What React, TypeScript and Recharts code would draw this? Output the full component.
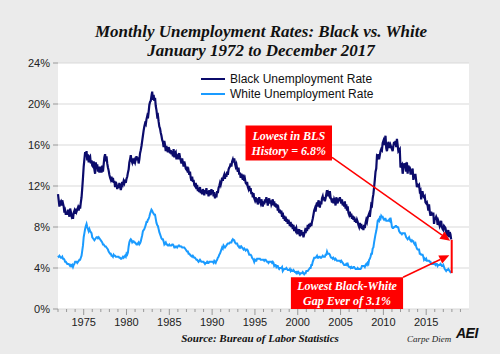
import {
  CartesianGrid,
  Legend,
  Line,
  LineChart,
  ReferenceArea,
  ReferenceLine,
  XAxis,
  YAxis,
} from "recharts";

const startYear = 1972;

// monthly black unemployment rate, Jan 1972 - Dec 2017 (one row per year)
const blackRate = [
  11.2, 10.6, 10.0, 10.4, 10.5, 10.1, 10.6, 10.3, 10.0, 9.4, 9.6, 9.2,
  9.5, 9.2, 9.7, 9.4, 9.0, 9.8, 9.5, 9.1, 9.3, 8.8, 9.4, 9.6,
  9.3, 9.8, 9.5, 9.7, 9.9, 9.6, 10.1, 9.8, 10.4, 10.9, 11.8, 12.8,
  13.9, 14.6, 15.3, 14.9, 15.4, 14.5, 15.1, 14.3, 14.8, 14.9, 14.2, 14.5,
  14.0, 13.9, 14.4, 13.6, 13.2, 14.3, 13.8, 14.1, 13.4, 13.9, 13.3, 13.9,
  13.7, 13.3, 14.0, 13.4, 14.1, 14.8, 15.1, 14.4, 14.9, 14.2, 13.8, 13.5,
  13.1, 12.8, 12.6, 12.9, 12.4, 12.8, 12.3, 12.5, 11.9, 12.4, 12.2, 11.7,
  12.1, 11.8, 12.3, 12.0, 11.6, 11.9, 12.4, 12.2, 12.5, 12.3, 12.6, 12.3,
  12.7, 12.9, 13.3, 13.6, 14.3, 14.6, 15.0, 14.5, 14.3, 14.7, 14.2, 14.5,
  14.3, 14.6, 14.9, 14.5, 14.8, 14.2, 14.6, 15.2, 15.5, 15.9, 16.4, 16.9,
  17.4, 17.8, 18.1, 18.0, 18.5, 18.8, 18.6, 19.2, 19.9, 20.2, 20.3, 20.8,
  21.2, 20.4, 20.9, 20.3, 20.6, 19.8, 19.4, 18.8, 18.9, 18.3, 17.8, 17.6,
  17.2, 16.9, 16.5, 16.3, 15.8, 16.4, 16.0, 15.4, 15.9, 15.5, 15.3, 15.8,
  15.6, 15.2, 15.5, 15.1, 15.4, 14.9, 15.6, 14.8, 15.2, 15.3, 14.6, 14.9,
  15.0, 14.6, 15.2, 14.8, 14.5, 14.2, 14.7, 14.3, 13.9, 14.4, 14.1, 13.7,
  13.6, 13.9, 13.3, 13.5, 13.1, 13.4, 12.8, 12.5, 12.9, 12.4, 12.6, 12.1,
  12.0, 12.3, 11.7, 12.1, 11.5, 11.8, 11.4, 11.9, 11.3, 11.6, 11.2, 11.7,
  11.5, 11.1, 11.6, 11.3, 11.8, 11.2, 11.5, 11.0, 11.6, 11.4, 11.1, 11.7,
  11.3, 11.6, 11.0, 11.4, 10.8, 11.2, 10.9, 11.5, 11.3, 11.8, 12.0, 12.3,
  12.1, 12.4, 12.8, 12.5, 12.9, 13.1, 12.7, 13.2, 12.9, 13.4, 13.1, 13.6,
  13.8, 13.9, 14.2, 13.9, 14.4, 14.6, 14.3, 14.7, 14.2, 13.9, 14.1, 13.7,
  13.4, 13.8, 13.1, 13.3, 12.8, 13.2, 12.9, 12.6, 13.1, 12.5, 12.7, 12.3,
  12.2, 12.4, 11.9, 11.7, 12.0, 11.5, 11.8, 11.2, 11.4, 10.9, 11.3, 10.8,
  10.6, 10.9, 10.4, 10.8, 10.2, 10.6, 10.9, 10.5, 10.3, 10.7, 10.4, 10.0,
  10.5, 10.2, 10.7, 10.4, 10.9, 10.6, 10.1, 10.5, 10.8, 10.3, 10.6, 10.2,
  10.4, 10.7, 10.1, 10.5, 10.0, 10.3, 9.9, 10.2, 9.6, 9.8, 9.4, 9.7,
  9.3, 9.6, 9.0, 9.4, 8.8, 9.1, 8.6, 9.0, 8.5, 8.8, 8.3, 8.7,
  8.4, 8.1, 8.5, 8.0, 8.3, 7.8, 8.2, 7.6, 8.0, 7.7, 7.9, 7.5,
  7.6, 7.3, 7.8, 7.1, 7.4, 7.7, 7.2, 7.5, 7.0, 7.3, 7.6, 7.4,
  7.9, 7.6, 8.2, 7.8, 8.3, 8.0, 8.4, 8.1, 8.5, 8.8, 9.2, 9.6,
  9.8, 9.5, 10.1, 10.4, 10.0, 10.6, 10.3, 9.9, 10.5, 10.2, 10.8, 11.0,
  10.6, 10.9, 10.5, 10.8, 11.2, 11.6, 11.0, 11.3, 11.1, 11.5, 10.9, 10.7,
  10.4, 10.8, 10.3, 10.7, 10.5, 10.1, 10.9, 10.6, 10.3, 10.8, 10.5, 10.9,
  10.6, 10.3, 10.7, 10.1, 10.4, 10.0, 10.5, 9.8, 10.2, 9.6, 10.0, 9.4,
  9.2, 9.5, 9.0, 9.3, 8.8, 9.1, 8.7, 9.0, 8.5, 8.8, 8.4, 8.7,
  8.5, 8.2, 8.0, 8.4, 7.9, 8.3, 7.8, 8.1, 7.7, 8.2, 7.9, 8.4,
  8.7, 8.5, 8.9, 9.1, 9.3, 9.0, 9.6, 10.2, 10.1, 10.8, 11.2, 11.9,
  12.6, 13.4, 13.7, 14.9, 14.8, 15.1, 14.6, 15.0, 15.4, 15.6, 15.5, 16.2,
  16.4, 16.0, 16.5, 16.9, 15.7, 15.4, 15.8, 16.3, 16.1, 15.7, 16.0, 15.8,
  15.6, 15.4, 15.9, 16.3, 16.0, 16.4, 15.8, 16.6, 16.0, 15.4, 15.5, 15.6,
  13.8, 14.0, 14.1, 13.2, 13.6, 14.2, 14.0, 14.1, 13.4, 14.3, 13.2, 14.0,
  13.8, 13.8, 13.2, 13.2, 13.5, 13.7, 12.6, 13.0, 13.1, 13.1, 12.5, 11.9,
  12.1, 12.0, 12.1, 11.5, 11.6, 10.7, 11.4, 11.4, 11.0, 10.9, 11.0, 10.4,
  10.3, 10.4, 10.1, 9.6, 10.2, 9.5, 9.1, 9.5, 9.2, 9.2, 9.4, 8.3,
  8.8, 8.8, 9.0, 8.8, 8.2, 8.6, 8.4, 8.1, 8.3, 8.6, 8.0, 7.8,
  7.7, 8.1, 8.0, 7.9, 7.5, 7.1, 7.4, 7.7, 7.0, 7.5, 7.3, 6.8,
];

// monthly white unemployment rate, same months
const whiteRate = [
  5.2, 5.1, 5.2, 5.1, 5.0, 5.0, 5.1, 4.9, 4.9, 4.8, 4.6, 4.6,
  4.5, 4.4, 4.4, 4.4, 4.3, 4.2, 4.3, 4.2, 4.3, 4.1, 4.3, 4.4,
  4.6, 4.6, 4.6, 4.5, 4.6, 4.7, 4.8, 4.8, 5.0, 5.2, 5.7, 6.2,
  7.0, 7.4, 7.8, 8.1, 8.3, 8.0, 7.8, 7.6, 7.8, 7.6, 7.5, 7.4,
  7.0, 6.9, 6.8, 6.7, 6.8, 6.9, 7.0, 7.0, 6.9, 7.0, 6.9, 6.8,
  6.7, 6.6, 6.5, 6.3, 6.3, 6.2, 6.1, 6.1, 6.0, 5.9, 5.8, 5.6,
  5.5, 5.4, 5.4, 5.2, 5.2, 5.1, 5.3, 5.2, 5.2, 5.1, 5.1, 5.1,
  5.1, 5.1, 5.0, 5.0, 4.9, 4.9, 5.0, 5.1, 5.0, 5.1, 5.2, 5.1,
  5.4, 5.3, 5.5, 6.1, 6.5, 6.7, 6.8, 6.7, 6.5, 6.6, 6.6, 6.5,
  6.5, 6.4, 6.3, 6.3, 6.4, 6.5, 6.3, 6.4, 6.6, 6.9, 7.2, 7.6,
  7.7, 7.8, 8.0, 8.2, 8.5, 8.5, 8.7, 8.8, 9.0, 9.3, 9.5, 9.7,
  9.6, 9.4, 9.3, 9.2, 9.2, 8.8, 8.4, 8.2, 8.1, 7.8, 7.5, 7.3,
  7.1, 6.9, 6.8, 6.8, 6.6, 6.3, 6.4, 6.5, 6.3, 6.3, 6.2, 6.2,
  6.3, 6.2, 6.2, 6.2, 6.3, 6.3, 6.2, 6.0, 6.0, 6.1, 6.1, 6.0,
  6.1, 6.2, 6.2, 6.1, 6.1, 6.1, 6.0, 6.0, 6.0, 6.0, 5.9, 5.8,
  5.7, 5.6, 5.6, 5.4, 5.4, 5.3, 5.2, 5.2, 5.1, 5.2, 5.1, 5.0,
  5.0, 4.9, 4.8, 4.8, 4.7, 4.6, 4.7, 4.8, 4.7, 4.6, 4.6, 4.6,
  4.6, 4.5, 4.4, 4.5, 4.5, 4.6, 4.5, 4.5, 4.6, 4.6, 4.6, 4.6,
  4.6, 4.6, 4.5, 4.7, 4.6, 4.5, 4.7, 4.8, 5.0, 5.1, 5.3, 5.4,
  5.6, 5.8, 6.0, 5.9, 6.2, 6.1, 6.0, 6.1, 6.2, 6.3, 6.4, 6.4,
  6.4, 6.5, 6.5, 6.5, 6.7, 6.8, 6.7, 6.7, 6.5, 6.4, 6.4, 6.4,
  6.2, 6.1, 6.0, 6.1, 6.0, 6.1, 6.0, 5.9, 5.8, 5.9, 5.8, 5.7,
  5.8, 5.8, 5.7, 5.5, 5.3, 5.3, 5.3, 5.2, 5.0, 4.9, 4.8, 4.6,
  4.8, 4.7, 4.7, 4.9, 4.9, 4.9, 4.9, 4.9, 4.8, 4.8, 4.8, 4.8,
  4.8, 4.7, 4.8, 4.8, 4.7, 4.6, 4.6, 4.5, 4.6, 4.6, 4.6, 4.6,
  4.5, 4.6, 4.5, 4.2, 4.3, 4.3, 4.1, 4.2, 4.2, 4.0, 3.9, 4.0,
  4.0, 4.0, 4.1, 3.7, 3.8, 3.9, 3.9, 3.9, 4.0, 3.9, 3.8, 3.8,
  3.8, 3.9, 3.7, 3.8, 3.7, 3.7, 3.8, 3.7, 3.6, 3.6, 3.5, 3.6,
  3.5, 3.6, 3.5, 3.4, 3.5, 3.5, 3.5, 3.6, 3.5, 3.4, 3.5, 3.5,
  3.7, 3.7, 3.7, 3.8, 3.9, 4.0, 4.0, 4.3, 4.3, 4.6, 4.8, 5.0,
  5.0, 5.0, 5.1, 5.2, 5.0, 5.0, 5.1, 5.1, 5.0, 5.0, 5.1, 5.2,
  5.1, 5.1, 5.1, 5.3, 5.3, 5.6, 5.4, 5.4, 5.4, 5.3, 5.1, 5.0,
  5.0, 4.9, 5.0, 4.9, 4.8, 4.9, 4.8, 4.7, 4.7, 4.7, 4.7, 4.7,
  4.6, 4.7, 4.6, 4.5, 4.4, 4.3, 4.3, 4.3, 4.4, 4.3, 4.4, 4.2,
  4.1, 4.1, 4.0, 4.1, 4.0, 4.0, 4.1, 4.1, 4.0, 3.9, 3.9, 3.9,
  4.0, 3.9, 3.9, 3.9, 3.9, 4.0, 4.2, 4.2, 4.2, 4.2, 4.1, 4.3,
  4.4, 4.3, 4.5, 4.4, 4.8, 4.9, 5.1, 5.4, 5.4, 5.9, 6.0, 6.5,
  6.9, 7.3, 7.6, 8.0, 8.6, 8.7, 8.6, 8.9, 8.8, 9.1, 9.0, 9.0,
  8.8, 8.7, 8.8, 8.8, 8.6, 8.6, 8.6, 8.6, 8.7, 8.6, 8.9, 8.5,
  8.0, 7.9, 7.9, 8.0, 8.0, 8.1, 8.1, 8.0, 8.0, 7.9, 7.6, 7.5,
  7.4, 7.4, 7.3, 7.4, 7.4, 7.4, 7.4, 7.2, 7.0, 6.9, 6.8, 6.9,
  7.0, 6.8, 6.7, 6.6, 6.7, 6.6, 6.6, 6.4, 6.3, 6.4, 6.1, 5.9,
  5.8, 5.8, 5.8, 5.4, 5.4, 5.3, 5.3, 5.3, 5.1, 4.8, 4.9, 4.8,
  4.9, 4.7, 4.7, 4.7, 4.7, 4.6, 4.6, 4.4, 4.4, 4.4, 4.4, 4.5,
  4.4, 4.3, 4.4, 4.4, 4.2, 4.3, 4.3, 4.3, 4.4, 4.3, 4.2, 4.2,
  4.3, 4.1, 3.9, 3.8, 3.7, 3.8, 3.8, 3.9, 3.8, 3.7, 3.6, 3.7,
];

const yTicks = [0, 4, 8, 12, 16, 20, 24];
const yearTicks = Array.from({ length: 48 }, (_, i) => startYear + i);

const data = blackRate.map((b, i) => ({
  t: startYear + i / 12,
  black: b,
  white: whiteRate[i],
}));

const RED = "#ff0000";
const serif = "'Liberation Serif', 'Times New Roman', serif";
const sans = "'Liberation Sans', Arial, sans-serif";

const YearTick = ({ x, y, payload }: any) => {
  const major = payload.value % 5 === 0;
  return (
    <g>
      <line x1={x} y1={y} x2={x} y2={y + (major ? 6 : 3)} stroke="#999" />
      {major && (
        <text x={x} y={y + 17} textAnchor="middle" fontSize={11} fill="#222" fontFamily={sans}>
          {payload.value}
        </text>
      )}
    </g>
  );
};

const Arrow = (props: any) => {
  const { x1, y1, x2, y2 } = props;
  const a = Math.atan2(y2 - y1, x2 - x1);
  const len = 10;
  const w = 4.5;
  const bx = x2 - len * Math.cos(a);
  const by = y2 - len * Math.sin(a);
  const pts = `${x2},${y2} ${bx - w * Math.sin(a)},${by + w * Math.cos(a)} ${bx + w * Math.sin(a)},${by - w * Math.cos(a)}`;
  return (
    <g>
      <line x1={x1} y1={y1} x2={bx} y2={by} stroke={RED} strokeWidth={1.5} />
      <polygon points={pts} fill={RED} />
    </g>
  );
};

const BoxLabel = ({ viewBox, lines }: any) => {
  const { x, y, width, height } = viewBox;
  const cx = x + width / 2;
  const lh = 15;
  const top = y + height / 2 - ((lines.length - 1) * lh) / 2;
  return (
    <text
      textAnchor="middle"
      fill="#fff"
      fontFamily={serif}
      fontStyle="italic"
      fontWeight="bold"
      fontSize={12}
    >
      {lines.map((l: string, i: number) => (
        <tspan key={l} x={cx} y={top + i * lh} dy="0.35em">
          {l}
        </tspan>
      ))}
    </text>
  );
};

const LegendBox = ({ payload }: any) => (
  <div style={{ fontFamily: sans, fontSize: 12, color: "#111" }}>
    {(payload || []).map((e: any) => (
      <div key={e.value} style={{ display: "flex", alignItems: "center", height: 15 }}>
        <svg width={29} height={4}>
          <line x1={0} y1={2} x2={24} y2={2} stroke={e.color} strokeWidth={2} />
        </svg>
        <span>{e.value}</span>
      </div>
    ))}
  </div>
);

export default function App() {
  return (
    <div
      style={{
        position: "absolute",
        left: 0,
        top: 0,
        width: 500,
        height: 354,
        background: "#ebebeb",
        overflow: "hidden",
      }}
    >
      <div
        style={{
          position: "absolute",
          left: 0,
          width: 522,
          top: 22,
          textAlign: "center",
          fontFamily: serif,
          fontStyle: "italic",
          fontWeight: "bold",
          fontSize: 17,
          lineHeight: "19px",
          color: "#111",
        }}
      >
        Monthly Unemployment Rates: Black vs. White
        <br />
        January 1972 to December 2017
      </div>
      <LineChart
        width={500}
        height={354}
        data={data}
        margin={{ top: 63, right: 31, left: 0, bottom: 15 }}
        style={{ position: "absolute", left: 0, top: 0 }}
      >
        <CartesianGrid vertical={false} stroke="#d9d9d9" fill="#ffffff" />
        <XAxis
          dataKey="t"
          type="number"
          domain={[1972, 2020]}
          ticks={yearTicks}
          interval={0}
          tick={<YearTick />}
          tickLine={false}
          axisLine={false}
          tickSize={0}
          tickMargin={0}
          height={30}
        />
        <YAxis
          domain={[0, 24]}
          ticks={yTicks}
          width={58}
          tickFormatter={(v) => `${v}%`}
          tickSize={5}
          tickMargin={3}
          axisLine={false}
          tickLine={{ stroke: "#999" }}
          tick={{ fontSize: 11, fill: "#222", fontFamily: sans }}
        />
        <Legend
          verticalAlign="middle"
          content={<LegendBox />}
          wrapperStyle={{ left: 201, top: 71, width: 220 }}
        />
        <Line
          name="Black Unemployment Rate"
          dataKey="black"
          stroke="#0b0b6b"
          strokeWidth={2.2}
          dot={false}
          isAnimationActive={false}
        />
        <Line
          name="White Unemployment Rate"
          dataKey="white"
          stroke="#1a9bff"
          strokeWidth={2}
          dot={false}
          isAnimationActive={false}
        />
        <ReferenceArea
          x1={1993.9}
          x2={2004.0}
          y1={14.5}
          y2={17.9}
          fill={RED}
          fillOpacity={1}
          stroke="none"
          label={<BoxLabel lines={["Lowest in BLS", "History = 6.8%"]} />}
        />
        <ReferenceArea
          x1={1999.2}
          x2={2012.3}
          y1={0}
          y2={3.1}
          fill={RED}
          fillOpacity={1}
          stroke="none"
          label={<BoxLabel lines={["Lowest Black-White", "Gap Ever of 3.1%"]} />}
        />
        <ReferenceLine
          segment={[
            { x: 2004.0, y: 14.8 },
            { x: 2017.8, y: 6.65 },
          ]}
          shape={<Arrow />}
        />
        <ReferenceLine
          segment={[
            { x: 2012.3, y: 3.1 },
            { x: 2017.7, y: 5.25 },
          ]}
          shape={<Arrow />}
        />
        <ReferenceLine
          segment={[
            { x: 2017.98, y: 6.75 },
            { x: 2017.98, y: 3.5 },
          ]}
          stroke={RED}
          strokeWidth={2}
        />
      </LineChart>
      <div
        style={{
          position: "absolute",
          left: 160,
          width: 200,
          top: 332,
          textAlign: "center",
          fontFamily: serif,
          fontStyle: "italic",
          fontWeight: "bold",
          fontSize: 11,
          color: "#111",
        }}
      >
        Source: Bureau of Labor Statistics
      </div>
      <div
        style={{
          position: "absolute",
          left: 407,
          top: 334,
          fontFamily: serif,
          fontStyle: "italic",
          fontSize: 9,
          color: "#222",
        }}
      >
        Carpe Diem
      </div>
      <div
        style={{
          position: "absolute",
          left: 456,
          top: 325,
          fontFamily: sans,
          fontStyle: "italic",
          fontWeight: 900,
          fontSize: 14,
          color: "#111",
          letterSpacing: -0.5,
        }}
      >
        AEI
      </div>
    </div>
  );
}
